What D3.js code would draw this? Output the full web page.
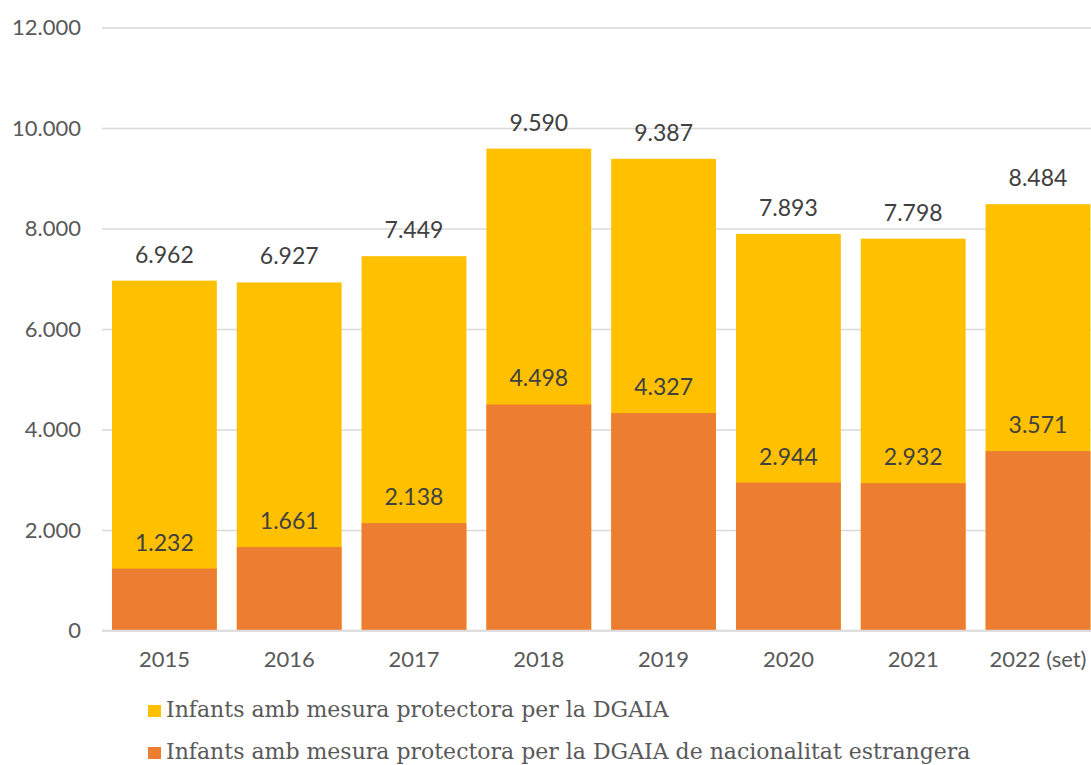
<!DOCTYPE html>
<html>
<head>
<meta charset="utf-8">
<script src="https://cdn.jsdelivr.net/npm/d3@7"></script>
<style>
  html, body { margin: 0; padding: 0; background: #fff; }
  svg { display: block; }
</style>
</head>
<body>
<svg id="chart" width="1091" height="765"></svg>
<script>
// Children with a DGAIA protective measure (total) and those of foreign nationality
const years = ["2015", "2016", "2017", "2018", "2019", "2020", "2021", "2022 (set)"];
const totalValues = [6962, 6927, 7449, 9590, 9387, 7893, 7798, 8484];
const foreignValues = [1232, 1661, 2138, 4498, 4327, 2944, 2932, 3571];
const yTicks = [0, 2000, 4000, 6000, 8000, 10000, 12000];
const seriesNames = [
  "Infants amb mesura protectora per la DGAIA",
  "Infants amb mesura protectora per la DGAIA de nacionalitat estrangera"
];
const seriesColors = ["#FFC000", "#ED7D31"];

const svg = d3.select("#chart");
const plotLeft = 102, plotRight = 1100.4, plotTop = 27.5, plotBottom = 630.5;
const sansFont = "Lato, 'Open Sans', sans-serif";
const serifFont = "'DejaVu Serif', 'Liberation Serif', serif";

const x = d3.scaleBand().domain(years).range([plotLeft, plotRight])
  .paddingInner(0.16).paddingOuter(0.08);
const y = d3.scaleLinear().domain([0, 12000]).range([plotBottom, plotTop]);

const fmt = v => d3.format(",")(v).replace(/,/g, ".");

// gridlines + y labels
const yAxis = d3.axisLeft(y).tickValues(yTicks).tickSize(-(plotRight - plotLeft)).tickFormat(fmt).tickPadding(21);
const gy = svg.append("g").attr("transform", `translate(${plotLeft},0)`).call(yAxis);
gy.select(".domain").remove();
gy.selectAll(".tick line").attr("stroke", "#d9d9d9").attr("stroke-width", 1.5);
gy.selectAll(".tick text")
  .attr("fill", "#595959")
  .style("font-family", sansFont)
  .style("font-size", "22px");

// total bars
svg.append("g").selectAll("rect").data(years).join("rect")
  .attr("x", d => x(d)).attr("width", x.bandwidth())
  .attr("y", (d, i) => y(totalValues[i]))
  .attr("height", (d, i) => y(0) - y(totalValues[i]))
  .attr("fill", seriesColors[0]);

// foreign-nationality bars drawn in front
svg.append("g").selectAll("rect").data(years).join("rect")
  .attr("x", d => x(d)).attr("width", x.bandwidth())
  .attr("y", (d, i) => y(foreignValues[i]))
  .attr("height", (d, i) => y(0) - y(foreignValues[i]))
  .attr("fill", seriesColors[1]);

// x axis baseline and category labels
const xAxis = d3.axisBottom(x).tickSize(0).tickPadding(21);
const gx = svg.append("g").attr("transform", `translate(0,${plotBottom})`).call(xAxis);
gx.select(".domain").attr("stroke", "#d9d9d9").attr("stroke-width", 1.5)
  .attr("d", `M${plotLeft},0H${plotRight}`);
gx.selectAll(".tick text")
  .attr("fill", "#595959")
  .style("font-family", sansFont)
  .style("font-size", "22px");

// value labels
function addLabels(values) {
  svg.append("g").selectAll("text").data(years).join("text")
    .attr("x", d => x(d) + x.bandwidth() / 2)
    .attr("y", (d, i) => y(values[i]) - 18)
    .attr("text-anchor", "middle")
    .attr("fill", "#404040")
    .style("font-family", sansFont)
    .style("font-size", "23px")
    .text((d, i) => fmt(values[i]));
}
addLabels(totalValues);
addLabels(foreignValues);

// legend
const legend = svg.append("g");
seriesNames.forEach((name, i) => {
  const base = 717 + i * 42;
  legend.append("rect").attr("x", 148).attr("y", base - 12).attr("width", 13).attr("height", 12)
    .attr("fill", seriesColors[i]);
  legend.append("text").attr("x", 166).attr("y", base)
    .attr("fill", "#595959")
    .style("font-family", serifFont)
    .style("font-size", "22px")
    .text(name);
});
</script>
</body>
</html>
